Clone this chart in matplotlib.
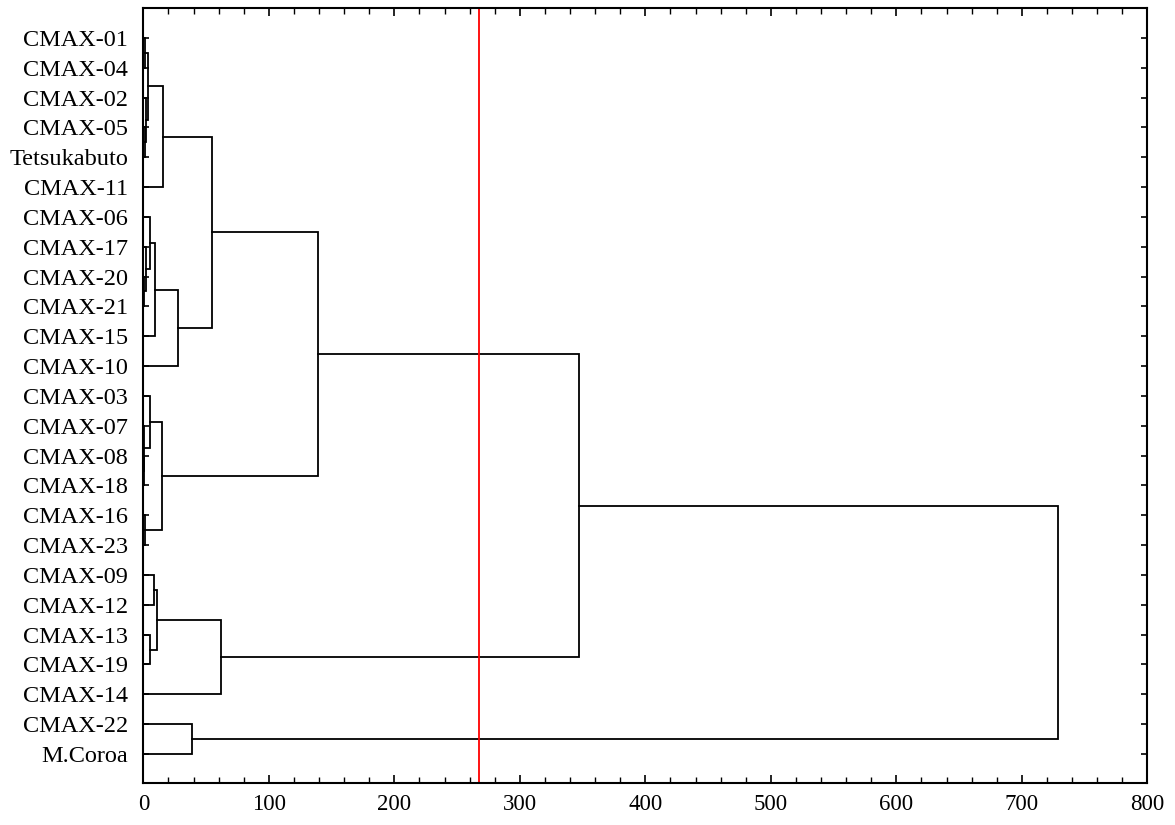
import matplotlib
matplotlib.use("Agg")
import matplotlib.pyplot as plt
from matplotlib.ticker import MultipleLocator

# leaf order as shown top -> bottom
leaves = ["CMAX-01", "CMAX-04", "CMAX-02", "CMAX-05", "Tetsukabuto", "CMAX-11",
          "CMAX-06", "CMAX-17", "CMAX-20", "CMAX-21", "CMAX-15", "CMAX-10",
          "CMAX-03", "CMAX-07", "CMAX-08", "CMAX-18", "CMAX-16", "CMAX-23",
          "CMAX-09", "CMAX-12", "CMAX-13", "CMAX-19", "CMAX-14",
          "CMAX-22", "M.Coroa"]

# merges, scipy style: ids < 25 are leaves, id 25+k is merge k
merge_a = [0, 3, 2, 25, 28, 8, 7, 6, 32, 33, 14, 13, 12, 16, 37,
           18, 20, 40, 42, 23, 29, 45, 46, 47]
merge_b = [1, 4, 26, 27, 5, 9, 30, 31, 10, 11, 15, 35, 36, 17, 38,
           19, 21, 41, 22, 24, 34, 39, 43, 44]
merge_dist = [1.0, 1.2, 2.4, 3.8, 15.7, 0.5, 2.3, 5.2, 9.2, 27.6, 0.3, 0.7, 5.6, 1.5, 14.9,
              8.2, 5.6, 10.6, 61.8, 38.7, 54.6, 138.9, 347.1, 728.7]

cut_height = 267.6

plt.rcParams['font.family'] = ['Liberation Serif', 'DejaVu Serif']

fig = plt.figure(figsize=(11.75, 8.25), dpi=100)
ax = fig.add_axes([0.122, 0.051, 0.8545, 0.9393])

n = len(leaves)
pos = list(range(n))
hgt = [0.0] * n
for a, b, d in zip(merge_a, merge_b, merge_dist):
    ax.plot([hgt[a], d, d, hgt[b]], [pos[a], pos[a], pos[b], pos[b]],
            color="black", lw=1.3, solid_joinstyle="miter")
    pos.append((pos[a] + pos[b]) / 2)
    hgt.append(d)

ax.axvline(cut_height, color="red", lw=1.3)

ax.set_xlim(0, 800)
ax.set_ylim(n - 0.03, -1.0)
ax.set_yticks(range(n))
ax.set_yticklabels(leaves)
ax.xaxis.set_major_locator(MultipleLocator(100))
ax.xaxis.set_minor_locator(MultipleLocator(20))
ax.tick_params(axis="x", which="major", direction="in", top=True, length=5.5, width=1.2,
               labelsize=16.5, pad=8)
ax.tick_params(axis="x", which="minor", direction="in", top=True, length=4, width=1.0)
ax.tick_params(axis="y", direction="in", right=True, length=4.5, width=1.2,
               labelsize=17.5, pad=11)
for s in ax.spines.values():
    s.set_linewidth(1.5)

fig.savefig("out.png", dpi=100)
